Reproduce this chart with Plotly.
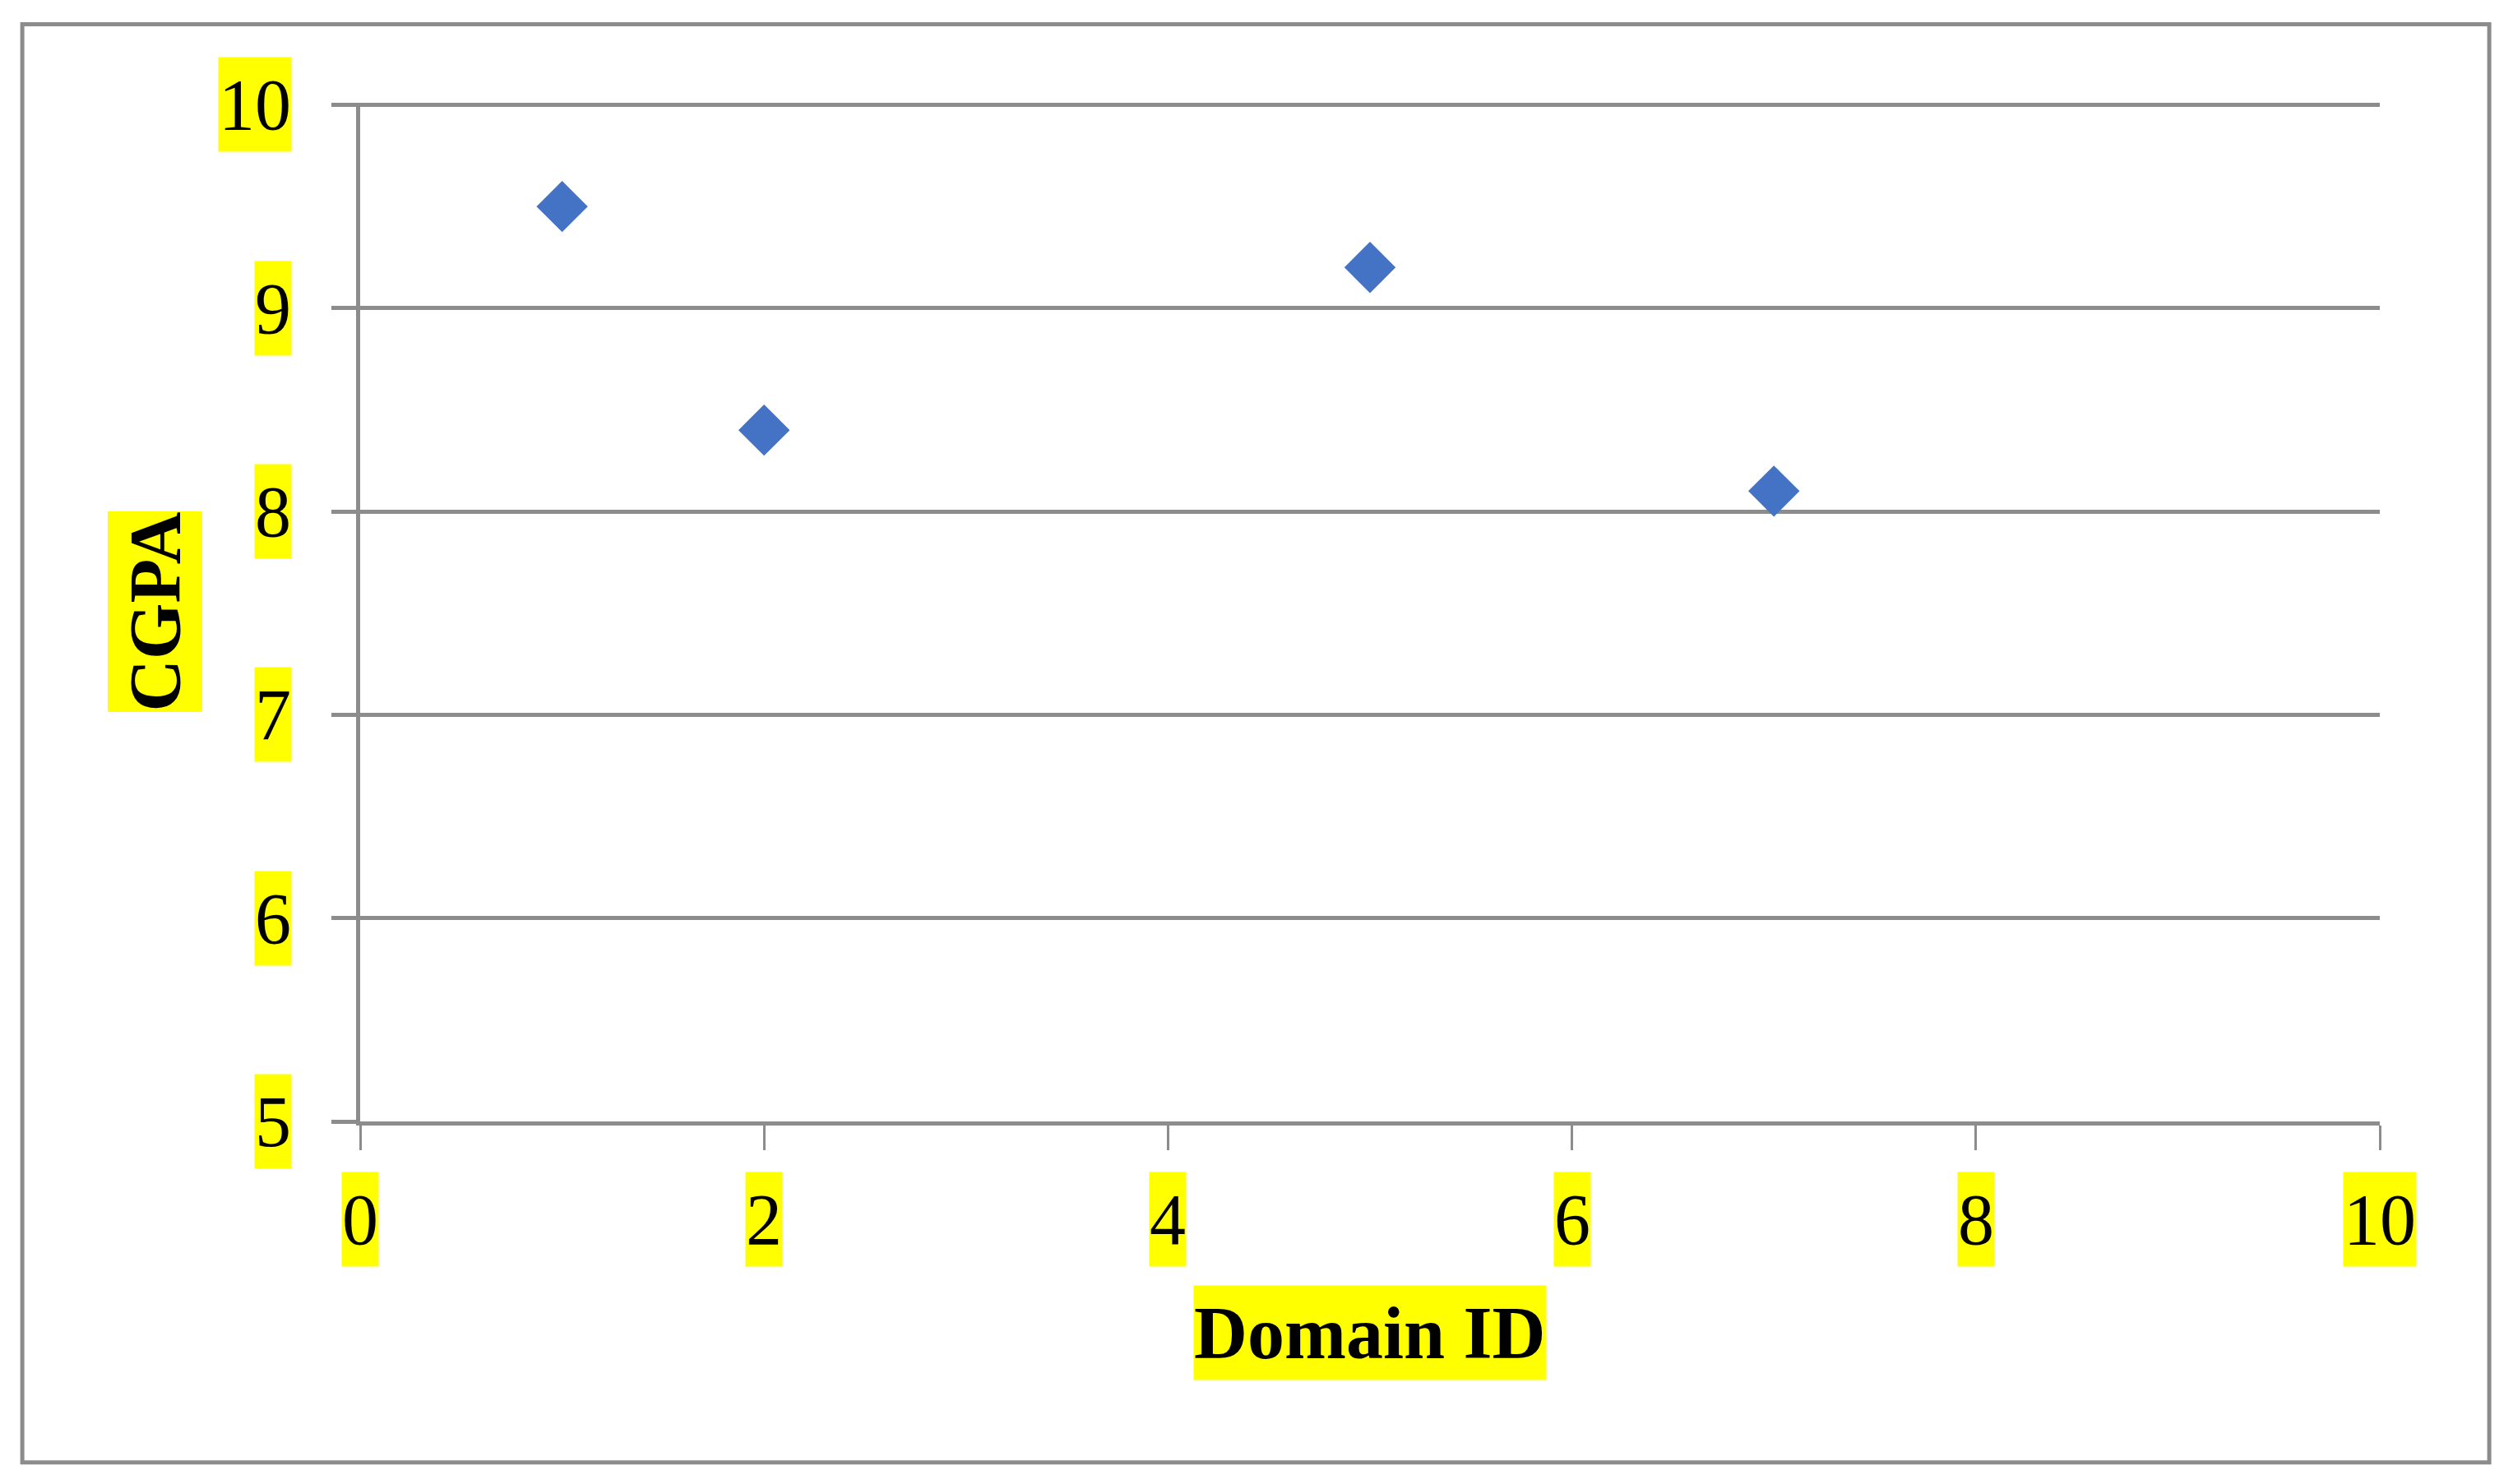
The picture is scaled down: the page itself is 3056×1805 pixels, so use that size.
import plotly.graph_objects as go

# Werte
domain_ids = [1, 2, 5, 7]
cgpa = [9.5, 8.4, 9.2, 8.1]

x_ticks = [0, 2, 4, 6, 8, 10]
y_ticks = [5, 6, 7, 8, 9, 10]
x_title = "Domain ID"
y_title = "CGPA"

GRAU = "#8C8C8C"
GELB = "#FFFF00"
SCHRIFT = "Liberation Serif, Times New Roman, serif"

fig = go.Figure()

fig.add_trace(go.Scatter(
    x=domain_ids, y=cgpa, mode="markers",
    marker=dict(symbol="diamond", size=48, color="#4472C4", line=dict(width=0)),
    showlegend=False,
))

# Achsenbeschriftungen mit gelbem Hintergrund als Annotationen
annots = []
for v in x_ticks:
    annots.append(dict(
        x=v, xref="x", y=0, yref="paper", text=str(v), showarrow=False,
        xanchor="center", yanchor="top", yshift=-61,
        bgcolor=GELB, borderpad=0, height=114,
        font=dict(family=SCHRIFT, size=88, color="black"),
    ))
for v in y_ticks:
    annots.append(dict(
        x=0, xref="paper", y=v, yref="y", text=str(v), showarrow=False,
        xanchor="right", yanchor="middle", xshift=-83,
        bgcolor=GELB, borderpad=0, height=114,
        font=dict(family=SCHRIFT, size=88, color="black"),
    ))
annots.append(dict(
    x=0.5, xref="paper", y=0, yref="paper", text="<b>" + x_title + "</b>",
    showarrow=False, xanchor="center", yanchor="top", yshift=-199,
    bgcolor=GELB, borderpad=0, height=114,
    font=dict(family=SCHRIFT, size=90, color="black"),
))
annots.append(dict(
    x=0, xref="paper", y=0.5, yref="paper", text="<b>" + y_title + "</b>",
    showarrow=False, xanchor="center", yanchor="middle", xshift=-250,
    textangle=-90, bgcolor=GELB, borderpad=0, height=114,
    font=dict(family=SCHRIFT, size=88, color="black"),
))

# Seite hat 8px Rand, daher etwas kleiner
fig.update_layout(
    width=3048, height=1797,
    margin=dict(l=430, r=162, t=116.5, b=441),
    paper_bgcolor="white", plot_bgcolor="white",
    annotations=annots,
    shapes=[dict(
        type="rect", xref="paper", yref="paper",
        x0=-0.1673, x1=1.0542, y0=-0.3348, y1=1.0771,
        line=dict(color=GRAU, width=5), fillcolor="rgba(0,0,0,0)", layer="below",
    )],
)

fig.update_xaxes(
    range=[0, 10], tickvals=x_ticks, showticklabels=False,
    ticks="outside", ticklen=30, tickwidth=3, tickcolor=GRAU,
    showgrid=False, zeroline=False,
    showline=True, linecolor=GRAU, linewidth=5,
)
# obere Gitterlinie bei 10 wird sonst am Rand abgeschnitten
fig.update_yaxes(
    range=[5, 10.01], tickvals=y_ticks, showticklabels=False,
    ticks="outside", ticklen=30, tickwidth=5, tickcolor=GRAU,
    showgrid=True, gridcolor=GRAU, gridwidth=5, zeroline=False,
    showline=True, linecolor=GRAU, linewidth=5,
)

fig.write_html("out.html")
